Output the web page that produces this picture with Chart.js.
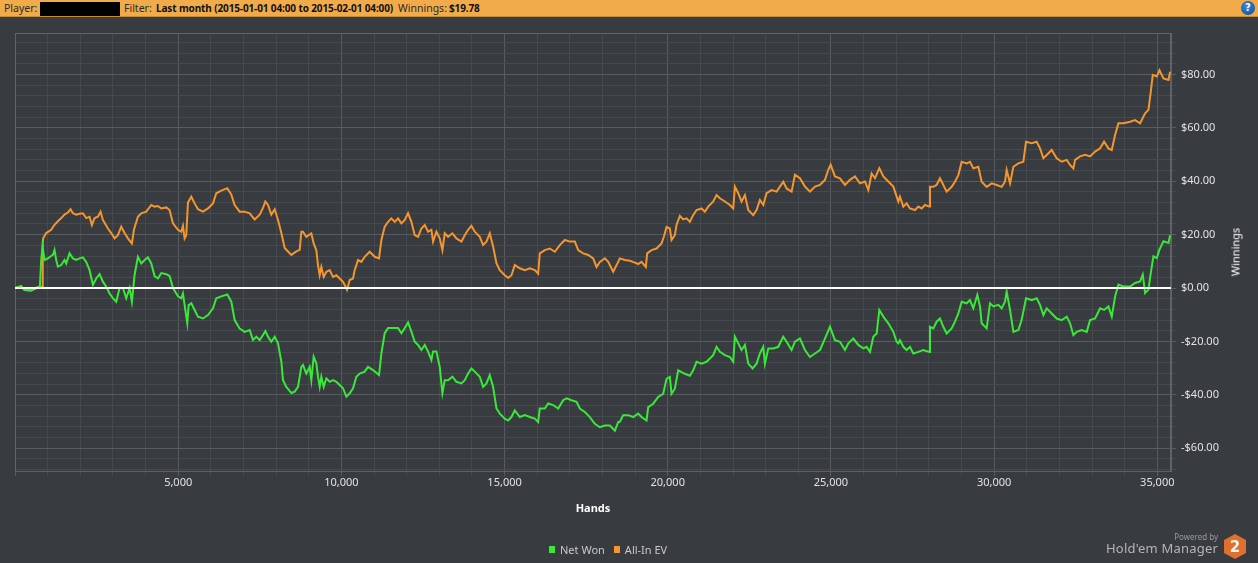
<!DOCTYPE html>
<html>
<head>
<meta charset="utf-8">
<script src="https://cdn.jsdelivr.net/npm/chart.js@4.4.1/dist/chart.umd.min.js"></script>
<style>
html,body{margin:0;padding:0;background:#383b3f;width:1258px;height:563px;overflow:hidden;font-family:"Noto Sans",sans-serif;}
#bar{position:absolute;left:0;top:0;width:1258px;height:16px;background:#f2ab4a;border-bottom:1px solid #c98a36;}
#bar span{position:absolute;top:0;line-height:16px;font-size:10.5px;color:#2b2b2b;white-space:nowrap;}
#bar .b{font-weight:bold;color:#111;font-size:10px;letter-spacing:-0.12px;}
#hidebox{position:absolute;left:40px;top:2px;width:80px;height:14px;background:#000;}
#help{position:absolute;left:1241px;top:1px;width:14px;height:14px;border-radius:50%;background:radial-gradient(circle at 40% 35%,#3d86d4,#0d4b94);color:#fff;font:bold 10px "DejaVu Sans",sans-serif;text-align:center;line-height:14px;}
#wrap{position:absolute;left:0;top:17px;width:1258px;height:546px;}
#ytitle{position:absolute;left:1235px;top:252px;transform:translate(-50%,-50%) rotate(-90deg);color:#fff;font-size:11px;white-space:nowrap;}
#legend{position:absolute;left:549px;top:542px;display:flex;align-items:center;font-size:11px;color:#c8c8c8;white-space:nowrap;}
#legend .sw{display:inline-block;width:6px;height:7px;margin-right:5px;}
#legend .it{display:flex;align-items:center;margin-right:9px;}
#pw{position:absolute;right:40px;top:531px;font-size:8px;color:#9a9a9a;}
#hm{position:absolute;right:40px;top:539px;font-size:13px;color:#b4b4b4;letter-spacing:0.2px;}
#logo{position:absolute;left:1223px;top:534px;}
</style>
</head>
<body>
<div id="bar">
  <span style="left:4px">Player:</span>
  <div id="hidebox"></div>
  <span style="left:124px">Filter:</span>
  <span class="b" style="left:156px">Last month (2015-01-01 04:00 to 2015-02-01 04:00)</span>
  <span style="left:398px">Winnings:</span>
  <span class="b" style="left:449px">$19.78</span>
  <div id="help">?</div>
</div>
<div id="wrap"><canvas id="c" width="1258" height="546"></canvas></div>
<div id="ytitle">Winnings</div>
<div id="legend"></div>
<div id="pw">Powered by</div>
<div id="hm">Hold'em Manager</div>
<svg id="logo" width="24" height="25" viewBox="0 0 24 25">
  <polygon points="12,0 23,6 23,19 12,25 1,19 1,6" fill="#e0702c"/>
  <text x="12" y="18" text-anchor="middle" font-family="DejaVu Sans,sans-serif" font-weight="bold" font-size="15" fill="#f4f4f4">2</text>
</svg>
<script>
// ---- data ----
const seriesLabels = ["Net Won", "All-In EV"];
const seriesColors = ["#3ae83a", "#f4962f"];

const netWonHands = [0,189,292,496,700,762,803,843,905,1007,1109,1160,1211,1263,1314,1416,1518,1569,1671,1774,1876,1978,2080,2182,2285,2387,2489,2591,2693,2796,2898,3000,3102,3204,3307,3409,3511,3582,3664,3766,3869,3971,4073,4175,4277,4380,4482,4635,4737,4840,4993,5095,5146,5218,5279,5320,5402,5504,5606,5759,5913,6066,6168,6321,6505,6628,6730,6884,7037,7190,7292,7395,7497,7599,7670,7752,7854,7957,8059,8161,8212,8314,8468,8570,8672,8774,
8824,8926,9029,9080,9151,9233,9284,9335,9386,9458,9540,9642,9744,9846,9948,10051,10153,10255,10357,10459,10562,10715,10817,10970,11154,11226,11328,11430,11533,11635,11737,11839,11941,12044,12146,12248,12350,12452,12555,12657,12759,12810,12912,13014,13096,13168,13270,13403,13525,13679,13781,13883,13985,14088,14241,14343,14445,14547,14650,14752,14854,15007,15110,15212,15314,15467,15621,15774,15927,16029,16080,16234,16336,16489,16643,16796,16898,17051,17205,17307,17460,17613,17767,17920,18073,18227,18380,18482,
18532,18634,18788,18941,19094,19196,19350,19401,19554,19707,19861,19963,20065,20116,20218,20321,20423,20525,20678,20780,20883,21036,21189,21291,21394,21496,21598,21751,21905,22007,22058,22160,22262,22365,22467,22600,22722,22824,22927,22978,23080,23233,23387,23540,23642,23795,23898,24051,24204,24357,24511,24664,24817,24971,25124,25277,25431,25533,25686,25839,25993,26095,26197,26299,26401,26483,26606,26759,26912,27015,27066,
27115,27217,27319,27422,27524,27677,27830,28015,28035,28137,28239,28341,28444,28546,28699,28801,28904,29006,29159,29261,29363,29486,29568,29619,29772,29874,29977,30130,30232,30334,30385,30488,30590,30743,30845,30978,31152,31305,31407,31510,31612,31765,31918,32072,32225,32327,32429,32532,32685,32838,32940,33094,33247,33370,33503,33605,33707,33809,33962,34167,34320,34473,34555,34627,34729,34800,34882,34984,35066,35189,35342,35393];
const netWonValues = [0,0.75,-0.75,-0.9,0.3,0.5,10.5,15.7,10.5,11.1,12.0,12.4,14.3,10.5,8.0,8.6,10.5,9.2,13.0,11.1,10.5,11.1,11.5,9.8,6.7,1.2,3.6,5.2,2.4,0.5,-2.0,-3.8,-5.1,0.0,0.0,-3.8,0.0,-5.1,4.9,11.7,9.2,10.5,11.5,9.2,4.5,3.6,5.6,5.2,4.5,0,-3.1,-3.8,-2.0,-8.2,-13.2,-6.4,-5.7,-8.2,-10.7,-11.4,-10.1,-7.6,-3.8,-3.1,-2.4,-5.1,-12.0,-15.2,-16.4,-15.7,-19.5,-18.2,-19.5,-17.6,-16.1,-18.2,-20.1,-18.2,-20.7,-27.6,-34.5,-37.0,-39.3,-38.8,-37.0,-29.5,
-28.8,-32.0,-29.5,-34.5,-25.7,-28.2,-33.2,-37.0,-33.2,-37.0,-33.8,-35.1,-34.5,-35.1,-36.3,-37.5,-40.7,-39.4,-37.5,-33.2,-32.0,-31.3,-29.5,-30.7,-32.6,-24.5,-16.9,-15.0,-15.0,-15.0,-15.0,-16.9,-15.0,-12.9,-16.3,-20.1,-21.3,-23.2,-21.3,-23.8,-26.9,-23.8,-23.8,-29.5,-39.4,-34.5,-34.5,-33.2,-35.1,-35.7,-34.5,-32.0,-30.1,-31.3,-33.2,-37.0,-35.7,-32.6,-37.0,-45.1,-47.0,-48.9,-49.6,-48.3,-45.8,-48.3,-47.6,-48.3,-48.9,-50.2,-45.1,-45.1,-43.2,-43.8,-45.1,-42.0,-41.3,-42.0,-42.6,-45.1,-46.4,-48.3,-50.8,-52.1,-51.5,-51.5,-53.4,-50.2,
-50.1,-47.6,-47.6,-48.3,-47.0,-48.3,-49.6,-44.6,-43.3,-40.8,-39.6,-34.0,-33.3,-39.6,-37.7,-30.8,-31.5,-32.1,-32.8,-30.8,-27.6,-28.3,-27.6,-26.4,-25.1,-22.0,-23.9,-25.1,-25.8,-27.6,-18.2,-20.7,-23.2,-21.3,-28.3,-30.1,-28.3,-24.5,-22.0,-28.3,-22.6,-22.6,-22.0,-18.2,-20.1,-23.2,-20.1,-18.9,-23.2,-25.8,-24.5,-23.2,-18.9,-14.5,-19.5,-20.1,-23.2,-20.7,-18.9,-21.3,-22.6,-22.0,-23.9,-18.2,-17.0,-8.2,-10.7,-13.2,-16.4,-20.1,-20.7,
-19.5,-22.0,-23.2,-22.0,-24.5,-23.9,-23.2,-23.9,-14.5,-15.1,-12.6,-11.4,-14.5,-17.0,-15.1,-12.6,-9.5,-5.1,-5.7,-4.5,-7.6,-2.6,-6.9,-13.2,-15.1,-5.7,-6.9,-6.3,-7.6,-5.1,-1.3,-8.2,-16.4,-15.7,-11.9,-3.8,-4.5,-3.8,-6.3,-10.1,-7.6,-9.5,-11.4,-12.0,-10.7,-13.2,-17.6,-16.4,-15.7,-16.4,-12.0,-11.4,-7.6,-8.2,-6.9,-10.7,-3.2,1.3,0.6,0.6,1.9,2.5,5.0,-1.9,-0.6,5.6,11.9,11.2,14.4,17.5,16.9,19.78];

const allInEvHands = [0,189,292,496,700,762,830,850,864,956,1109,1211,1314,1416,1518,1620,1702,1774,1876,1978,2080,2182,2285,2356,2438,2540,2622,2693,2847,2949,3051,3153,3255,3358,3460,3582,3644,3766,3869,4022,4175,4277,4380,4482,4635,4737,4840,4993,5095,5146,5197,5248,5299,5402,5504,5606,5759,5913,6066,6168,6321,6505,6628,6730,6884,7037,7190,7343,7497,7599,7670,7752,7854,7957,8059,8161,8263,8365,8468,8621,8723,8774,
8824,8926,9080,9151,9233,9284,9335,9386,9458,9540,9642,9744,9846,9948,10051,10153,10173,10255,10357,10408,10511,10613,10715,10868,11022,11154,11226,11328,11430,11533,11635,11737,11839,11941,12044,12146,12248,12350,12452,12555,12657,12759,12810,12912,13014,13096,13168,13270,13403,13525,13679,13781,13883,13985,14088,14241,14343,14445,14547,14650,14752,14854,15007,15110,15212,15314,15467,15621,15774,15927,16029,16080,16234,16387,16540,16694,16847,17000,17154,17256,17409,17562,17716,17818,17920,18073,18176,18329,18482,
18532,18685,18839,18992,19094,19196,19329,19370,19503,19656,19810,19881,19963,20065,20116,20218,20269,20372,20474,20576,20678,20780,20883,21036,21138,21240,21394,21496,21598,21751,21905,22007,22058,22160,22262,22365,22467,22620,22722,22824,22927,23029,23182,23335,23540,23642,23795,23898,24051,24204,24357,24511,24664,24817,24920,24991,25124,25277,25431,25584,25737,25890,26044,26146,26248,26350,26483,26606,26759,26912,27066,
27115,27217,27319,27422,27575,27677,27779,27882,28015,28035,28137,28239,28341,28444,28546,28699,28801,28904,29006,29159,29261,29363,29517,29619,29772,29926,30079,30232,30334,30385,30488,30590,30743,30896,30978,31152,31305,31407,31510,31612,31765,31918,32072,32225,32327,32429,32481,32634,32787,32940,33094,33247,33370,33503,33605,33707,33809,33962,34167,34320,34473,34627,34729,34800,34862,34984,35066,35189,35342,35393];
const allInEvValues = [0,0.75,-0.75,-0.9,0.3,0.5,0.5,17.0,18.6,20.6,21.8,23.7,25.0,26.2,27.5,28.3,29.5,28.0,27.5,27.8,28.0,26.2,26.7,23.6,26.2,26.7,28.6,25.5,22.3,20.6,18.6,19.8,23.0,20.6,18.6,16.7,21.8,26.7,28.0,28.6,31.1,30.5,30.7,29.8,30.2,29.2,24.2,21.8,21.1,23.3,18.6,19.8,32.0,34.2,31.7,29.5,28.6,29.8,31.7,35.5,36.5,37.4,35.0,31.1,28.6,28.6,28.0,25.7,27.5,30.0,32.4,31.1,27.5,29.5,25.5,20.6,15.0,13.7,12.4,13.7,14.3,21.1,
21.1,19.2,20.5,16.7,14.2,8.6,4.8,7.9,4.2,6.1,6.7,4.2,4.8,3.6,2.3,0.0,-0.6,3.0,3.6,6.7,10.5,9.8,11.7,13.6,11.7,11.1,18.0,23.0,24.8,26.1,24.8,26.1,24.2,25.5,28.0,24.8,19.8,19.2,22.3,23.6,21.1,21.8,17.4,21.1,18.6,14.2,20.5,19.2,20.5,18.6,17.4,19.8,21.8,23.3,21.1,19.2,16.1,17.4,20.5,15.5,9.3,6.7,4.8,3.8,4.8,8.6,7.4,6.7,7.4,6.7,5.4,13.0,14.2,14.8,13.6,16.1,18.0,17.4,17.4,14.2,13.0,12.4,11.1,7.9,9.8,11.1,9.8,6.1,9.8,
11.1,10.5,10.2,9.5,9.0,9.8,7.9,13.0,14.2,14.8,16.7,19.2,22.9,22.3,18.0,19.8,23.6,27.0,25.7,26.1,24.8,27.3,29.2,29.8,28.6,30.5,32.4,34.8,33.6,32.4,31.1,29.8,38.0,35.5,32.4,34.8,29.2,27.3,29.2,33.0,31.1,35.5,36.7,36.1,39.8,37.3,36.1,42.4,41.1,38.0,36.1,38.0,38.6,40.5,44.3,46.2,41.8,41.1,38.6,40.5,41.8,39.2,39.9,36.7,42.9,41.1,44.9,41.8,39.9,38.0,32.4,
34.2,30.5,31.7,29.8,29.2,30.5,29.8,31.1,30.5,37.9,37.9,38.6,41.1,38.6,36.1,37.9,39.8,42.3,47.3,46.7,47.3,44.8,45.4,39.8,37.9,39.2,38.6,37.9,39.8,44.2,39.2,45.4,46.7,47.3,54.8,54.2,54.8,52.3,48.6,49.8,51.7,48.6,47.3,48.0,46.1,44.8,48.0,49.3,49.9,49.3,51.1,52.3,54.8,52.3,51.7,57.3,61.7,61.7,62.3,62.9,61.7,65.4,66.7,73.5,79.8,79.2,81.6,78.5,77.9,81.0];

const xMin = 0, xMax = 35420, xStep = 1000, xLabelEvery = 5000;
const yMin = -68.5, yMax = 95.5, yStep = 4, yLabelEvery = 20;
const xAxisTitle = "Hands";

// ---- chart ----
const FONT = '"Noto Sans", sans-serif';
const gridMinor = '#46494d', gridMajor = '#585b5f', frameColor = '#5f6266';

function toPoints(xs, ys){ return xs.map((x,i)=>({x:x, y:ys[i]})); }

const zeroLine = {
  id:'zeroLine',
  beforeDatasetsDraw(chart){
    const {ctx, chartArea:a} = chart;
    ctx.save();
    ctx.strokeStyle = frameColor; ctx.lineWidth = 1;
    ctx.strokeRect(a.left+0.5, a.top+0.5, a.right-a.left-1, a.bottom-a.top);
    ctx.restore();
  },
  afterDatasetsDraw(chart){
    const {ctx, chartArea:a, scales} = chart;
    const y = scales.y.getPixelForValue(0);
    ctx.save();
    ctx.strokeStyle = '#ffffff'; ctx.lineWidth = 2;
    ctx.beginPath(); ctx.moveTo(a.left, y); ctx.lineTo(a.right, y); ctx.stroke();
    ctx.restore();
  }
};

const xTicks = []; for (let v = xMin; v <= xMax; v += xStep) xTicks.push(v);
const yTicks = []; for (let v = Math.ceil(yMin / yStep) * yStep; v <= yMax; v += yStep) yTicks.push(v);

const chart = new Chart(document.getElementById('c'), {
  type:'line',
  data:{
    datasets:[
      {label:seriesLabels[0], data:toPoints(netWonHands, netWonValues), borderColor:seriesColors[0], backgroundColor:seriesColors[0], borderWidth:2, pointRadius:0, tension:0, fill:false},
      {label:seriesLabels[1], data:toPoints(allInEvHands, allInEvValues), borderColor:seriesColors[1], backgroundColor:seriesColors[1], borderWidth:2, pointRadius:0, tension:0, fill:false}
    ]
  },
  options:{
    responsive:false, animation:false, maintainAspectRatio:false,
    layout:{padding:{left:15, top:16, right:0, bottom:0}},
    plugins:{legend:{display:false}, tooltip:{enabled:false}},
    scales:{
      x:{
        type:'linear', position:'bottom', min:xMin, max:xMax,
        afterBuildTicks(s){ s.ticks = xTicks.map(v=>({value:v})); },
        afterFit(s){ s.height = 92; },
        grid:{color:c => (c.tick && c.tick.value % xLabelEvery === 0) ? gridMajor : gridMinor, lineWidth:1, tickLength:5, drawTicks:true},
        border:{display:true, color:frameColor},
        ticks:{padding:0, color:'#e2e2e2', font:{family:FONT, size:11}, maxRotation:0, autoSkip:false,
          callback:v => (v % xLabelEvery === 0 && v > 0) ? v.toLocaleString('en-US') : ''},
        title:{display:true, text:xAxisTitle, color:'#ffffff', font:{family:FONT, size:11, weight:'bold'}, padding:{top:0, bottom:48}}
      },
      y:{
        type:'linear', position:'right', min:yMin, max:yMax,
        afterBuildTicks(s){ s.ticks = yTicks.map(v=>({value:v})); },
        afterFit(s){ s.width = 87; },
        grid:{color:c => (c.tick && c.tick.value % yLabelEvery === 0) ? gridMajor : gridMinor, lineWidth:1, tickLength:5, drawTicks:true},
        border:{display:true, color:frameColor},
        ticks:{padding:5, color:'#e2e2e2', font:{family:FONT, size:11}, autoSkip:false,
          callback:v => (v % yLabelEvery === 0) ? (v < 0 ? '-$' : '$') + Math.abs(v).toFixed(2) : ''}
      }
    }
  },
  plugins:[zeroLine]
});

// HTML legend from the datasets
const lg = document.getElementById('legend');
chart.data.datasets.forEach(ds => {
  const it = document.createElement('span'); it.className = 'it';
  const sw = document.createElement('span'); sw.className = 'sw'; sw.style.background = ds.borderColor;
  it.appendChild(sw); it.appendChild(document.createTextNode(ds.label));
  lg.appendChild(it);
});
</script>
</body>
</html>
